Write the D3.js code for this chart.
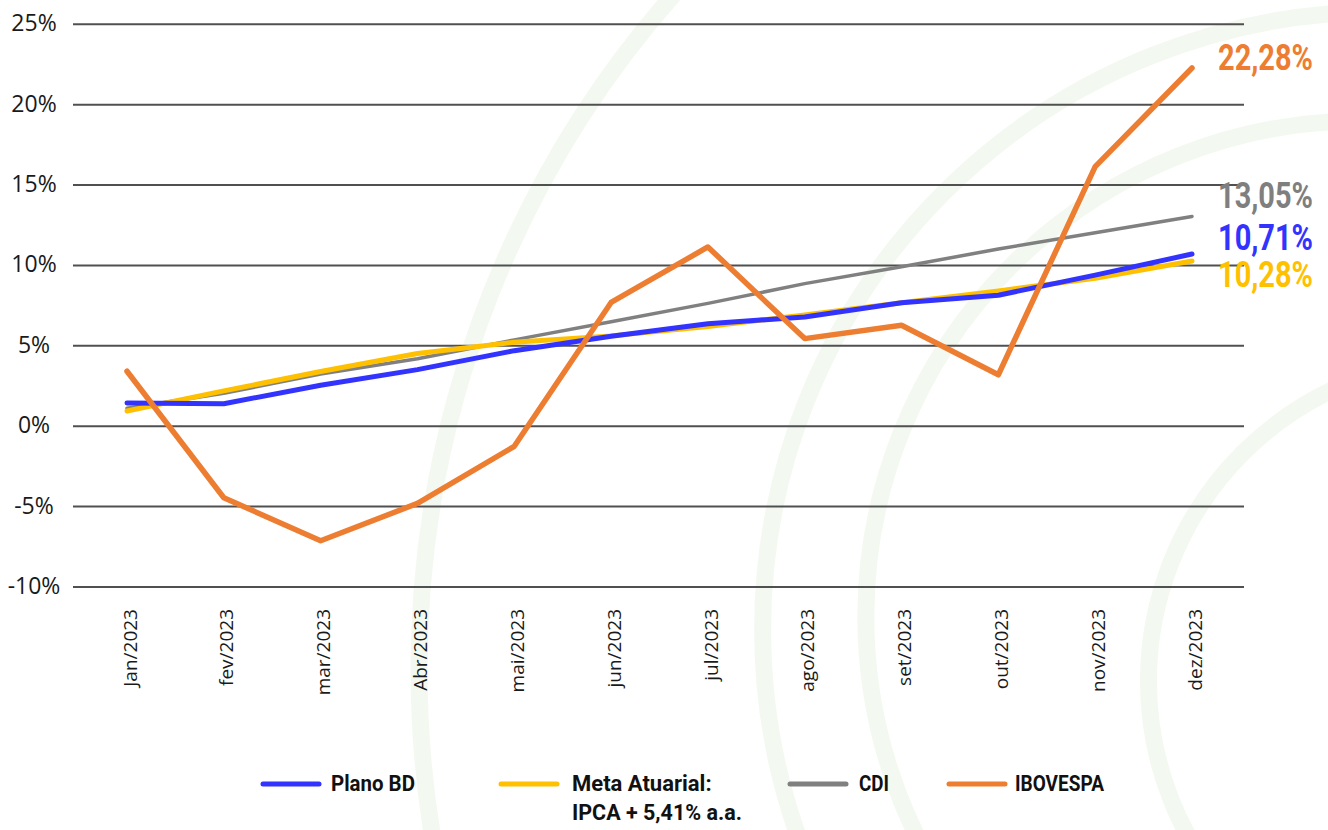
<!DOCTYPE html>
<html>
<head>
<meta charset="utf-8">
<script src="https://cdn.jsdelivr.net/npm/d3@7"></script>
<style>
  html, body { margin: 0; padding: 0; background: #ffffff; }
  svg { display: block; }
</style>
</head>
<body>
<svg id="chart" width="1328" height="830"></svg>
<script>
// ---------- DATA ----------
const months = ["Jan/2023","fev/2023","mar/2023","Abr/2023","mai/2023","jun/2023",
                "jul/2023","ago/2023","set/2023","out/2023","nov/2023","dez/2023"];
const planoBD   = [1.45, 1.40, 2.55, 3.52, 4.70, 5.60, 6.38, 6.80, 7.68, 8.15, 9.40, 10.71];
const metaAtuarial = [0.95, 2.20, 3.40, 4.52, 5.22, 5.62, 6.20, 6.92, 7.68, 8.42, 9.20, 10.28];
const cdi       = [1.12, 2.05, 3.25, 4.20, 5.37, 6.50, 7.64, 8.87, 9.92, 11.02, 12.04, 13.05];
const ibovespa  = [3.42, -4.45, -7.12, -4.80, -1.25, 7.70, 11.15, 5.45, 6.28, 3.20, 16.15, 22.28];
const yTicks = [-10, -5, 0, 5, 10, 15, 20, 25];
const seriesNames = ["Plano BD", "Meta Atuarial:", "CDI", "IBOVESPA"];
const metaSecondLine = "IPCA + 5,41% a.a.";

// ---------- STYLE / LAYOUT ----------
const W = 1328, H = 830;
const colors = { plano: "#3333ff", meta: "#ffc000", cdi: "#808080", ibov: "#ed7d31" };
const svg = d3.select("#chart");
svg.append("rect").attr("width", W).attr("height", H).attr("fill", "#ffffff");

// decorative background arcs (light green logo motif)
function circleFrom3(p1, p2, p3) {
  const [ax, ay] = p1, [bx, by] = p2, [cx, cy] = p3;
  const d = 2 * (ax * (by - cy) + bx * (cy - ay) + cx * (ay - by));
  const ux = ((ax*ax + ay*ay) * (by - cy) + (bx*bx + by*by) * (cy - ay) + (cx*cx + cy*cy) * (ay - by)) / d;
  const uy = ((ax*ax + ay*ay) * (cx - bx) + (bx*bx + by*by) * (ax - cx) + (cx*cx + cy*cy) * (bx - ax)) / d;
  return { x: ux, y: uy, r: Math.hypot(ax - ux, ay - uy) };
}
const arcsDef = [
  [[669, 0], [449, 424], [423, 760]],
  [[1328, 14], [847, 318], [796, 830]],
  [[1328, 122], [931, 371], [914, 830]],
  [[1328, 392], [1202, 503], [1185, 830]]
];
const deco = svg.append("g");
arcsDef.forEach(pts => {
  const c = circleFrom3(...pts);
  deco.append("circle").attr("cx", c.x).attr("cy", c.y).attr("r", c.r)
    .attr("fill", "none").attr("stroke", "#f3f9f0").attr("stroke-width", 17);
});

const x = d3.scalePoint().domain(months).range([127, 1192]);
const y = d3.scaleLinear().domain([-10, 25]).range([587, 24.3]);

// gridlines
svg.append("g").selectAll("line").data(yTicks).join("line")
  .attr("x1", 73).attr("x2", 1244)
  .attr("y1", d => y(d)).attr("y2", d => y(d))
  .attr("stroke", "#505050").attr("stroke-width", 2);

// y labels
svg.append("g").selectAll("text").data(yTicks).join("text")
  .attr("x", 34).attr("y", d => y(d)).attr("dy", "0.3em")
  .attr("text-anchor", "middle")
  .attr("font-family", "'Open Sans', 'Noto Sans', sans-serif")
  .attr("font-size", 23).attr("fill", "#1a1a1a")
  .text(d => d + "%");

// x labels
svg.append("g").selectAll("text").data(months).join("text")
  .attr("transform", d => `translate(${x(d) + 3},609) rotate(-90)`)
  .attr("dy", "0.35em")
  .attr("text-anchor", "end")
  .attr("font-family", "'Open Sans', 'Noto Sans', sans-serif")
  .attr("font-size", 19).attr("fill", "#1a1a1a")
  .text(d => d);

// lines
const line = d3.line().x((d, i) => x(months[i])).y(d => y(d));
const drawOrder = [
  { data: cdi, color: colors.cdi, w: 3.5 },
  { data: metaAtuarial, color: colors.meta, w: 5 },
  { data: planoBD, color: colors.plano, w: 5 },
  { data: ibovespa, color: colors.ibov, w: 5.5 }
];
svg.append("g").selectAll("path").data(drawOrder).join("path")
  .attr("d", d => line(d.data))
  .attr("fill", "none").attr("stroke", d => d.color).attr("stroke-width", d => d.w)
  .attr("stroke-linejoin", "round").attr("stroke-linecap", "round");

// condensed text helper: squeeze horizontally to a target width
const condFont = "Roboto, 'Liberation Sans', sans-serif";
function condText(parent, str, px, py, size, color, targetW, anchor) {
  const g = parent.append("g").attr("transform", `translate(${px},${py})`);
  const t = g.append("text")
    .attr("font-family", condFont).attr("font-weight", "bold")
    .attr("font-size", size).attr("fill", color)
    .attr("text-anchor", anchor || "start")
    .text(str);
  const natural = t.node().getComputedTextLength();
  const s = Math.min(1, targetW / natural);
  t.attr("transform", `scale(${s},1)`);
  return g;
}

// end labels
const fmt = v => d3.format(".2f")(v).replace(".", ",") + "%";
const endLabels = [
  { v: ibovespa[11], color: colors.ibov, base: 70 },
  { v: cdi[11], color: "#7f7f7f", base: 208 },
  { v: planoBD[11], color: colors.plano, base: 250 },
  { v: metaAtuarial[11], color: colors.meta, base: 287 }
];
const endG = svg.append("g");
endLabels.forEach(d => condText(endG, fmt(d.v), 1313, d.base, 37, d.color, 95, "end"));

// legend
const legendItems = [
  { name: seriesNames[0], color: colors.plano, lx: 263, tx: 331, tw: 84 },
  { name: seriesNames[1], color: colors.meta, lx: 501, tx: 572, tw: 140 },
  { name: seriesNames[2], color: colors.cdi, lx: 790, tx: 859, tw: 30 },
  { name: seriesNames[3], color: colors.ibov, lx: 949, tx: 1015, tw: 89 }
];
const lg = svg.append("g");
lg.selectAll("line").data(legendItems).join("line")
  .attr("x1", d => d.lx).attr("x2", d => d.lx + 56)
  .attr("y1", 784).attr("y2", 784)
  .attr("stroke", d => d.color).attr("stroke-width", 5).attr("stroke-linecap", "round");
legendItems.forEach(d => condText(lg, d.name, d.tx, 791, 22, "#111111", d.tw, "start"));
condText(lg, metaSecondLine, 572, 820, 22, "#111111", 170, "start");
</script>
</body>
</html>
